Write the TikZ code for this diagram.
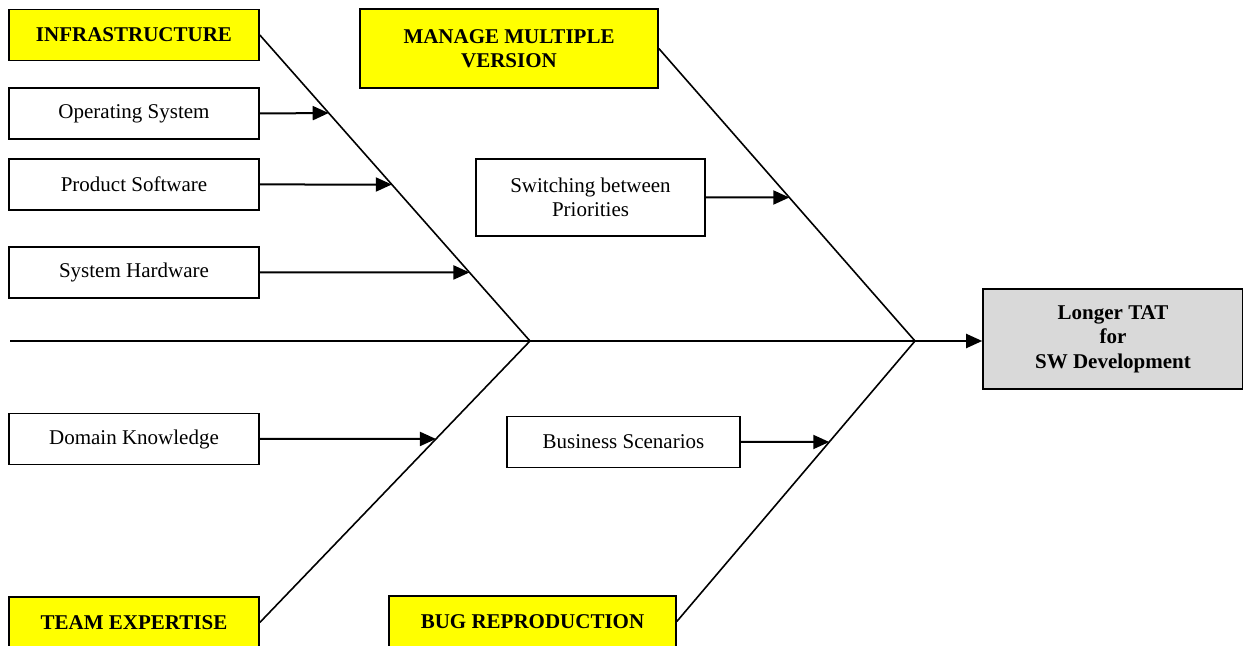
\documentclass[tikz,border=0pt]{standalone}
\usepackage{fontspec}
\setmainfont{Liberation Serif}
\usetikzlibrary{arrows.meta,positioning,calc}
\definecolor{headyellow}{RGB}{255,255,0}
\definecolor{effectgray}{RGB}{217,217,217}

\begin{document}
\begin{tikzpicture}[x=0.5pt,y=-0.5pt,line width=0.8pt,
    cause/.style={draw, fill=white, inner sep=0pt, minimum width=125pt, minimum height=25.5pt,
      align=center, font=\fontsize{10.5}{12.25}\selectfont},
    head/.style={cause, fill=headyellow, font=\fontsize{10.5}{12.25}\selectfont\bfseries},
    feed/.style={line width=1pt, -{Triangle[length=8pt,width=7pt]}}]
    \useasboundingbox (0,0) rectangle (1243,646);
    \clip (0,0) rectangle (1243,646);

    % main categories
    \node[head] (infra) at (134,35) {INFRASTRUCTURE};
    \node[head] (team) at (134,622.5) {TEAM EXPERTISE};
    \node[head, minimum width=149pt, minimum height=39.5pt] (mmv) at (509,48.5) {MANAGE MULTIPLE\\VERSION};
    \node[head, minimum width=143.5pt] (bug) at (532.5,621.5) {BUG REPRODUCTION};

    % causes
    \node[cause] (os) at (134,113.5) {Operating System};
    \node[cause] (ps) at (134,184.5) {Product Software};
    \node[cause] (sh) at (134,272.5) {System Hardware};
    \node[cause] (dk) at (134,439) {Domain Knowledge};
    \node[cause, minimum width=114.5pt, minimum height=38.5pt] (sw) at (590.5,197.5) {Switching between\\Priorities};
    \node[cause, minimum width=116.5pt] (bs) at (623.5,442) {Business Scenarios};

    % effect
    \node[cause, fill=effectgray, font=\fontsize{10.5}{12.25}\selectfont\bfseries,
      minimum width=130pt, minimum height=50pt] (tat) at (1113,339) {Longer TAT\\for\\SW Development};

    % spine
    \coordinate (tail) at (10,341);
    \coordinate (j1) at (530,341);
    \coordinate (j2) at (915,341);
    \draw[feed] (tail) -- (tail -| tat.west);

    % bones
    \draw (infra.east) -- (j1);
    \draw (team.east) -- (j1);
    \draw (mmv.east) -- (j2);
    \draw (bug.east) -- (j2);

    % arrows onto the bones
    \coordinate (osx) at ($(infra.east)!0.255!(j1)$);
    \coordinate (psx) at ($(infra.east)!0.4886!(j1)$);
    \coordinate (shx) at ($(infra.east)!0.776!(j1)$);
    \coordinate (dkx) at ($(team.east)!0.652!(j1)$);
    \coordinate (swx) at ($(mmv.east)!0.5094!(j2)$);
    \coordinate (bsx) at ($(bug.east)!0.64!(j2)$);
    \draw[feed] (os.east) -- (osx);
    \draw[feed] (ps.east) -- (psx);
    \draw[feed] (sh.east) -- (shx);
    \draw[feed] (dk.east) -- (dkx);
    \draw[feed] (sw.east) -- (swx);
    \draw[feed] (bs.east) -- (bsx);
\end{tikzpicture}
\end{document}
